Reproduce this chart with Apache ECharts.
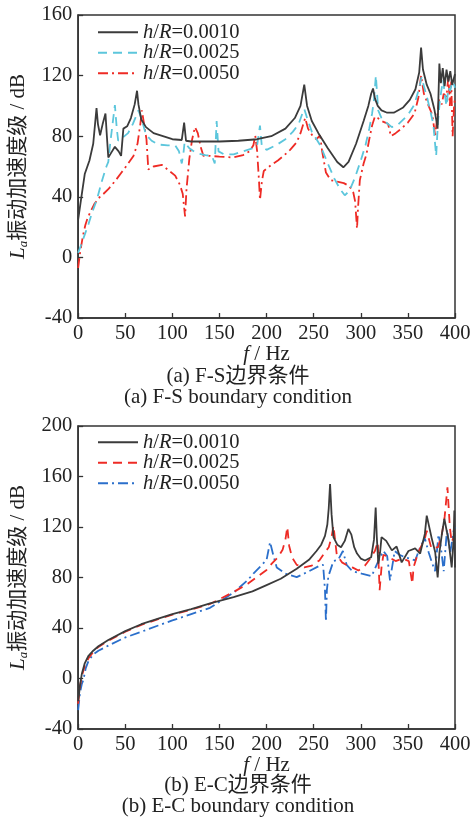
<!DOCTYPE html>
<html>
<head>
<meta charset="utf-8">
<script src="https://cdn.jsdelivr.net/npm/echarts@6/dist/echarts.min.js"></script>
<style>html,body{margin:0;padding:0;background:#fff}#c{width:476px;height:821px}</style>
</head>
<body>
<div id="c"></div>
<script>
// ---- Data: [frequency Hz, La dB] ----
const fsH0010 = [[0,25],[3,38],[7,55],[12,64],[16,75],[19.5,98.5],[21,88],[23.3,80.6],[26,88],[29,95],[30.5,80],[32,66],[35,69],[39,73],[43,70],[45.6,67],[48,85],[52,86.5],[56,92],[60,101],[62.5,110],[64,101],[67,91],[72,86],[80,82],[90,80],[100,78],[110,77.5],[112.5,89],[114.5,77],[120,76.5],[135,76.5],[150,76.5],[170,77],[190,78],[205,80],[220,85],[230,92],[236,100],[240,114],[243,100],[248,90],[255,82],[265,72],[275,63],[281.5,59.5],[287,63],[295,75],[303,90],[308,100],[311,108],[313,111.5],[315,105],[318,100],[322,97],[328,95.5],[335,95.5],[345,99],[352,104],[358,111],[362,122],[364,138.5],[366,124],[370,114],[374,108],[378,98],[380.5,89.5],[381.5,85],[383.4,128],[385,115],[387,125],[389,113],[391,124],[393,116],[395,123],[397,114],[400,121]];
const fsH0025 = [[0,3],[3,8],[7,15],[11,22],[15,30],[19.8,38],[25,50],[30,60],[32,63],[34,75],[36.5,88],[39,100.5],[41,85],[42.5,77],[47,79],[53,82],[58,88],[62,94],[64,97],[67,92],[72,81],[78,77],[85,74.5],[95,74],[103,74],[107,70],[110,62],[112,70],[113,76],[118,72],[125,69],[135,67.5],[142,67],[145,62],[147,90],[149,70],[155,68],[165,68],[175,70],[185,72],[190,74],[193,87],[195,73],[200,71],[210,74],[220,78],[228,83],[234,88],[238,95],[240,98],[243,92],[248,83],[257,74],[265,62],[272,52],[278,45],[283,41],[288,44],[294,53],[300,64],[305,74],[309,85],[312,95],[314,104],[316,120],[318.5,97],[322,92],[327,89],[333,86],[340,88],[350,94],[357,101],[362,112],[364.5,119],[367,113],[371,104],[374,96],[377,88],[380,67],[382,90],[384,104],[386,112],[387.5,117],[389,108],[391,100],[393,112],[395,110],[397,116],[399,114],[400,112]];
const fsH0050 = [[0,-7],[1,-2],[2,3],[5,14],[7.5,21],[10,26],[13,30],[17,35],[21.5,39],[27,42],[32,45],[40,51],[46,56],[52,61],[58.7,67],[63,75],[66,88],[67.6,97],[70,88],[72.5,78],[74.5,58],[80,60],[89,61],[97,57],[103,54],[108,48],[111,42],[113.5,27],[115,45],[118,65],[121,78],[124,86],[127,82],[130,73],[133,67],[140,67],[150,66.5],[164,66],[175,67.5],[182,70],[186,74],[188,80.5],[190,70],[192,50],[193,38],[195,50],[197,57],[205,61],[212,64],[218,67],[225,71],[232,76],[236,82],[239,88],[241,92],[244,85],[249,80],[253,78],[256.8,80.5],[259,70],[263,56],[268,51],[275,50],[282,49],[288,47],[292,43],[294,37],[296,19],[297,32],[299,51],[303,62],[306,68],[309,78],[312,87],[315,93],[318,92],[322,90],[326,89],[329,88],[332,80],[337,82],[343,85],[350,89],[357,95],[361,105],[364,120],[367,108],[372,100],[376,94],[379,80],[381,92],[383,104],[386,101],[388,108],[391,106],[393,120],[394.5,100],[396,116],[397.5,80],[399,100],[400,105]];

const ecH0010 = [[0,-18],[1,-12],[2,-5],[4,4],[7,12],[11,18],[16,22],[21.5,25.5],[32,30.5],[50,37.5],[67,43],[85,47.5],[100,51],[120,55],[140,59.5],[165,64.5],[185,69],[200,74],[215,79],[232,87],[245,94],[253,101],[258,106],[262,113],[264.5,122],[266,135],[267.4,154],[269,130],[271,112],[275,106],[279,104],[283,109],[286.8,118.5],[290,114],[293,104],[296,99],[300,95],[304.5,93.5],[311,96],[314,110],[315.8,135.5],[317,112],[318.6,91],[320.5,100],[322,112],[327,109],[333,101.5],[338,104.5],[343.4,92],[350.6,101],[357.7,103],[363,99],[368,114.5],[370,129],[375.3,111],[379,100],[381.6,80],[383.5,100],[386,114],[388.7,126.5],[393,110],[396.5,88],[398.5,110],[399.3,133],[400,88]];
const ecH0025 = [[0,-20],[1,-13],[2,-6],[4,2],[7,10],[11,16],[16,21],[21.5,25],[32,30],[50,37],[67,42.5],[85,47],[100,50.5],[120,54.5],[140,59],[165,68.5],[180,75],[190,80.5],[200,86],[205.5,91],[212,96],[217,102],[220,110],[222,120],[224,105],[227,96],[232,90],[240,88],[248,89.5],[256,93.5],[262,100],[266,104],[269,112],[271,121],[274.5,98],[280,92],[286,89.5],[291,88],[297.5,85.5],[304.5,89.5],[310,95],[315,101],[318,108],[320,70],[322,88],[324,98],[330,96],[337,93],[344,95],[351,93],[354.7,75],[356,88],[361,100],[365,106],[368,111],[370,117],[375,103],[382,104],[386,114],[389,128],[392,151.5],[394.5,120],[396.5,108],[398,111],[400,110]];
const ecH0050 = [[0,-25],[1,-18],[2,-11],[4,-4],[5.6,-1],[8,8],[11,14],[16,19],[21.5,22],[32,26],[50,32.5],[67,37],[85,42],[100,46],[120,51],[140,56],[165,68],[180,78],[186,83],[195,90],[200,94],[203.7,108],[207,98],[210.8,88],[220,83],[232,80.3],[245,85],[256.8,89.5],[260,90],[262,70],[263,45],[264,70],[265.6,81],[271,93],[276,94],[281,101],[285,90],[291,85],[301,83],[311.5,81],[318.6,93],[324,101],[328,97],[331,77.7],[336,101],[341,98],[347,96],[352,95],[357.7,93.5],[363,104],[368,111],[372,100],[375,93],[378.8,85],[382.5,114],[385,104],[388,85],[391.5,118],[395,100],[398.6,117],[400,120]];

const xTicks = [0,50,100,150,200,250,300,350,400];
const fsYRange = [-40,160];
const ecYRange = [-40,200];
const legendLabels = {
  a1:'{i|h}/{i|R}=0.0010', a2:'{i|h}/{i|R}=0.0025', a3:'{i|h}/{i|R}=0.0050',
  b1:'{i|h}/{i|R}=0.0010', b2:'{i|h}/{i|R}=0.0025', b3:'{i|h}/{i|R}=0.0050'
};
const captions = ['(a) F-S边界条件','(a) F-S boundary condition','(b) E-C边界条件','(b) E-C boundary condition'];

// ---- Styling ----
const FONT = "'Liberation Serif','Noto Sans CJK SC',serif";
const AX = '#333';
const BLACK = '#3b3b3b', CYAN = '#5cc6dc', RED = '#ee2b25', BLUE = '#2b6fcb';
const DASH = [9,6], DASHDOT = [10,4,2,4];

function xAxis(gi){
  return {
    type:'value', gridIndex:gi, min:xTicks[0], max:xTicks[xTicks.length-1], interval:xTicks[1]-xTicks[0],
    name:'{i|f} / Hz', nameLocation:'middle', nameGap:26,
    nameTextStyle:{fontFamily:FONT,fontSize:21,color:'#222',rich:{i:{fontStyle:'italic',fontFamily:FONT,fontSize:21,color:'#222'}}},
    axisLine:{show:true,onZero:false,lineStyle:{color:AX,width:1.5}},
    axisTick:{show:true,inside:true,length:5,lineStyle:{color:AX,width:1.3}},
    axisLabel:{fontFamily:FONT,fontSize:20.5,color:'#222',margin:5,showMaxLabel:true,showMinLabel:true},
    splitLine:{show:false}
  };
}
function yAxis(gi, r){
  return {
    type:'value', gridIndex:gi, min:r[0], max:r[1], interval:40,
    name:'{i|L}{s|a}{n|振动加速度级 / dB}', nameLocation:'middle', nameGap:46,
    nameTextStyle:{fontFamily:FONT,fontSize:21,color:'#222',
      rich:{i:{fontStyle:'italic',fontFamily:FONT,fontSize:21,color:'#222',lineHeight:24},
            s:{fontStyle:'italic',fontFamily:FONT,fontSize:13,color:'#222',verticalAlign:'bottom',lineHeight:24,padding:[8,0,0,0]},
            n:{fontFamily:FONT,fontSize:21,color:'#222',lineHeight:24}}},
    axisLine:{show:true,onZero:false,lineStyle:{color:AX,width:1.5}},
    axisTick:{show:true,inside:true,length:5,lineStyle:{color:AX,width:1.3}},
    axisLabel:{fontFamily:FONT,fontSize:20.5,color:'#222',margin:6},
    splitLine:{show:false}
  };
}
function line(name, data, color, type, gi){
  return {
    name, type:'line', data, xAxisIndex:gi, yAxisIndex:gi, showSymbol:false, symbol:'none',
    lineStyle:{color, width:1.8, type}, itemStyle:{color}, animation:false, z: name.endsWith('1')?3:2
  };
}
function legend(names, top){
  return {
    data:names, orient:'vertical', left:97, top, padding:0, itemGap:0,
    itemWidth:40, itemHeight:14, itemTextGap:4, selectedMode:false,
    itemStyle:{opacity:0, color:'rgba(0,0,0,0)', borderWidth:0},
    formatter:n=>legendLabels[n],
    textStyle:{fontFamily:FONT,fontSize:20.5,color:'#222',lineHeight:19.5,
      rich:{i:{fontStyle:'italic',fontFamily:FONT,fontSize:20.5,color:'#222',lineHeight:19.5}}}
  };
}

const chart = echarts.init(document.getElementById('c'), null, {renderer:'canvas'});
chart.setOption({
  backgroundColor:'#fff',
  animation:false,
  grid:[
    {left:78, top:15, width:377, height:303, show:true, borderColor:AX, borderWidth:1.5, backgroundColor:'transparent'},
    {left:78, top:426, width:377, height:303, show:true, borderColor:AX, borderWidth:1.5, backgroundColor:'transparent'}
  ],
  xAxis:[xAxis(0), xAxis(1)],
  yAxis:[yAxis(0, fsYRange), yAxis(1, ecYRange)],
  legend:[legend(['a1','a2','a3'], 22), legend(['b1','b2','b3'], 432)],
  series:[
    line('a3', fsH0050, RED, DASHDOT, 0),
    line('a2', fsH0025, CYAN, DASH, 0),
    line('a1', fsH0010, BLACK, 'solid', 0),
    line('b3', ecH0050, BLUE, DASHDOT, 1),
    line('b2', ecH0025, RED, DASH, 1),
    line('b1', ecH0010, BLACK, 'solid', 1)
  ],
  graphic:[
    {type:'text', left:'center', top:366, style:{text:captions[0], font:"21px "+FONT, fill:'#222'}},
    {type:'text', left:'center', top:387, style:{text:captions[1], font:"21px "+FONT, fill:'#222'}},
    {type:'text', left:'center', top:775, style:{text:captions[2], font:"21px "+FONT, fill:'#222'}},
    {type:'text', left:'center', top:796, style:{text:captions[3], font:"21px "+FONT, fill:'#222'}}
  ]
});
</script>
</body>
</html>
